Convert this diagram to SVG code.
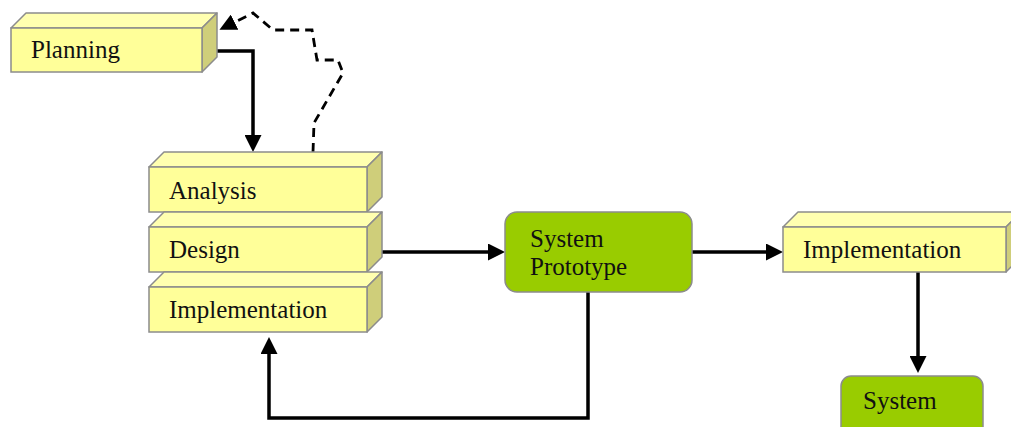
<svg xmlns="http://www.w3.org/2000/svg" width="1011" height="427" viewBox="0 0 1011 427">
  <defs>
    <marker id="head" markerUnits="userSpaceOnUse" markerWidth="17" markerHeight="17" refX="13" refY="8.5" orient="auto">
      <path d="M0,0 L17,8.5 L0,17 z" fill="#000"/>
    </marker>
    <style>
      .front { fill: #FFFF99; stroke: #8C8C8C; stroke-width: 1.5; }
      .top { fill: #FFFFB0; stroke: #8C8C8C; stroke-width: 1.5; stroke-linejoin: round; }
      .side { fill: #CFCE7A; stroke: #8C8C8C; stroke-width: 1.5; stroke-linejoin: round; }
      .green { fill: #99CC00; stroke: #8C8C8C; stroke-width: 1.5; }
      .label { font-family: "Liberation Serif", "Times New Roman", serif; font-size: 25px; fill: #111; }
      .conn { fill: none; stroke: #000; stroke-width: 3.5; stroke-linejoin: miter; }
      .dash { fill: none; stroke: #000; stroke-width: 2.8; stroke-dasharray: 9 6; }
    </style>
  </defs>

  <rect width="1011" height="427" fill="#fff"/>

  <!-- connectors -->
  <g id="connectors">
    <path class="conn" d="M202,51 H253 V148" marker-end="url(#head)"/>
    <path class="dash" d="M313,152 L314,123 L343,73 L338,60 L317,60 L312,30 L273,30 L253,13 L223,28" marker-end="url(#head)"/>
    <path class="conn" d="M382,252 H501" marker-end="url(#head)"/>
    <path class="conn" d="M692,252 H779" marker-end="url(#head)"/>
    <path class="conn" d="M918,272 V369" marker-end="url(#head)"/>
    <path class="conn" d="M588,292 V418 H269 V341" marker-end="url(#head)"/>
  </g>

  <!-- Planning -->
  <g id="planning">
    <polygon class="top" points="11,28 26,13 217,13 202,28"/>
    <polygon class="side" points="202,28 217,13 217,57 202,72"/>
    <rect class="front" x="11" y="28" width="191" height="44"/>
    <text class="label" x="31" y="58">Planning</text>
  </g>

  <!-- Analysis -->
  <g id="analysis">
    <polygon class="top" points="149,167 164,152 382,152 367,167"/>
    <polygon class="side" points="367,167 382,152 382,197 367,212"/>
    <rect class="front" x="149" y="167" width="218" height="45"/>
    <text class="label" x="169" y="199">Analysis</text>
  </g>

  <!-- Design -->
  <g id="design">
    <polygon class="top" points="149,227 164,212 382,212 367,227"/>
    <polygon class="side" points="367,227 382,212 382,257 367,272"/>
    <rect class="front" x="149" y="227" width="218" height="45"/>
    <text class="label" x="169" y="258">Design</text>
  </g>

  <!-- Implementation (prototype loop) -->
  <g id="implementation-loop">
    <polygon class="top" points="149,287 164,272 382,272 367,287"/>
    <polygon class="side" points="367,287 382,272 382,317 367,332"/>
    <rect class="front" x="149" y="287" width="218" height="45"/>
    <text class="label" x="169" y="318">Implementation</text>
  </g>

  <!-- System Prototype -->
  <g id="system-prototype">
    <rect class="green" x="505" y="212" width="187" height="80" rx="12" ry="12"/>
    <text class="label" x="530" y="247">System</text>
    <text class="label" x="530" y="275">Prototype</text>
  </g>

  <!-- Implementation (final) -->
  <g id="implementation">
    <polygon class="top" points="783,227 798,212 1021,212 1006,227"/>
    <polygon class="side" points="1006,227 1021,212 1021,257 1006,272"/>
    <rect class="front" x="783" y="227" width="223" height="45"/>
    <text class="label" x="803" y="258">Implementation</text>
  </g>

  <!-- System -->
  <g id="system">
    <rect class="green" x="841" y="376" width="142" height="70" rx="10" ry="10"/>
    <text class="label" x="863" y="409">System</text>
  </g>
</svg>
